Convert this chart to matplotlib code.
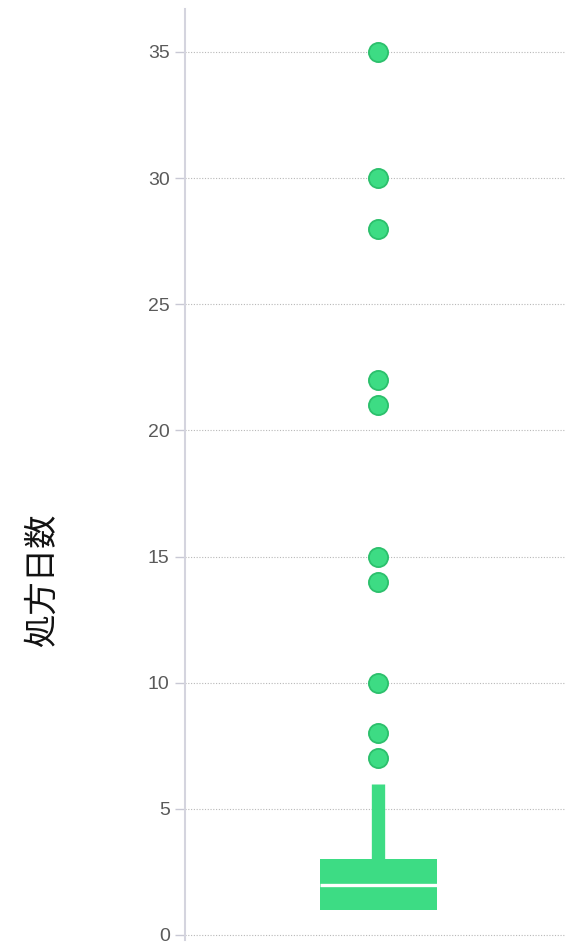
import matplotlib
matplotlib.use("Agg")
import matplotlib.pyplot as plt

# Data
ylabel = "処方日数"
q1, median, q3 = 1, 2, 3
whisker_low, whisker_high = 1, 6
outliers = [7, 8, 10, 14, 15, 21, 22, 28, 30, 35]
yticks = [0, 5, 10, 15, 20, 25, 30, 35]

green = "#3ddc84"
edge_green = "#2cc06c"

fig = plt.figure(figsize=(5.65, 9.42), dpi=100)
ax = fig.add_axes([185 / 565, 0.0021, 1 - 185 / 565, 0.9883])

stats = [dict(q1=q1, med=median, q3=q3, whislo=whisker_low, whishi=whisker_high,
              fliers=outliers)]
ax.bxp(stats, positions=[0], widths=0.616, patch_artist=True, showcaps=False,
       boxprops=dict(facecolor=green, edgecolor=green, linewidth=0),
       medianprops=dict(color="white", linewidth=2.4, solid_capstyle="butt"),
       whiskerprops=dict(color=green, linewidth=9.6, solid_capstyle="butt"),
       flierprops=dict(marker="o", markersize=13.8, markerfacecolor=green,
                       markeredgecolor=edge_green, markeredgewidth=1.3),
       zorder=3)

ax.set_xlim(-1.016, 0.984)
ax.set_ylim(-0.2, 36.7)
ax.set_xticks([])
ax.set_yticks(yticks)
ax.set_yticklabels([str(t) for t in yticks], fontfamily="Liberation Sans", fontsize=14, color="#5a5a5a")
ax.tick_params(axis="y", length=7, width=1, color="#c8c8d4", pad=4)
ax.grid(axis="y", linestyle=(0, (1.0, 1.5)), color="#b8b8b8", linewidth=0.8, zorder=0)
ax.set_axisbelow(True)
for s in ["top", "right", "bottom"]:
    ax.spines[s].set_visible(False)
ax.spines["left"].set_color("#d4d4de")
ax.spines["left"].set_linewidth(1.5)

fig.text(42 / 565, 1 - 580 / 942, ylabel, rotation=90, ha="center", va="center",
         fontsize=24, fontfamily=["Noto Sans CJK JP", "DejaVu Sans"], color="#111111")

fig.savefig("out.png", dpi=100)
